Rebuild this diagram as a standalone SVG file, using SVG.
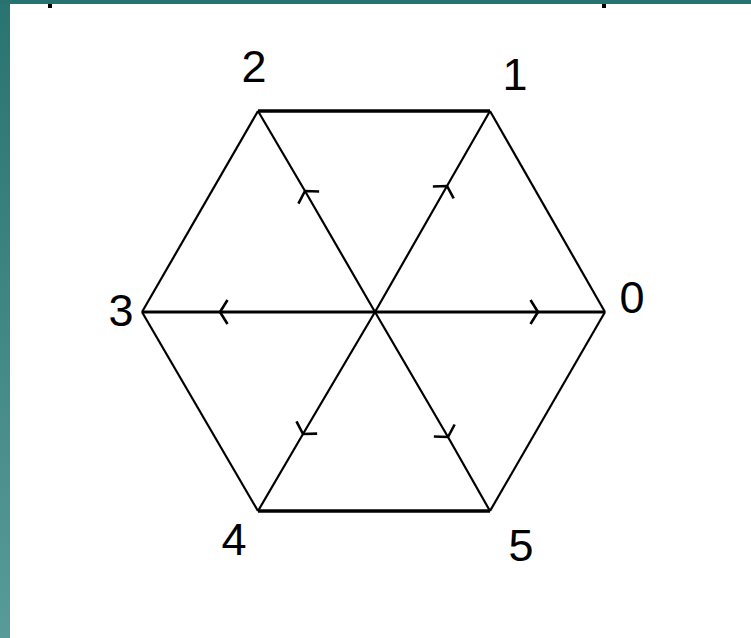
<svg xmlns="http://www.w3.org/2000/svg" width="751" height="638" viewBox="0 0 751 638">
<style>
.lbl{font-family:"Liberation Sans",Arial,sans-serif;font-size:45px;fill:#000;text-anchor:middle}
.e{stroke:#000;stroke-width:2.2;fill:none}
.h{stroke:#000;stroke-width:3.5;fill:none}
.s{stroke:#000;stroke-width:2.2;fill:none;marker-mid:url(#chev)}
.sh{stroke:#000;stroke-width:3;fill:none;marker-mid:url(#chev)}
</style>
<defs>
<linearGradient id="bar" x1="0" y1="0" x2="0" y2="1">
<stop offset="0" stop-color="#297370"/>
<stop offset="1" stop-color="#589b98"/>
</linearGradient>
<marker id="chev" markerUnits="userSpaceOnUse" viewBox="-12 -15 24 30" markerWidth="24" markerHeight="30" refX="0" refY="0" orient="auto" overflow="visible">
<path d="M -7.5,-12 L 0,0 L -7.5,12" fill="none" stroke="#000" stroke-width="2.6"/>
</marker>
</defs>
<rect x="0" y="0" width="751" height="638" fill="#fff"/>
<rect x="0" y="0" width="10" height="638" fill="url(#bar)"/>
<rect x="0" y="0" width="751" height="4" fill="#277170"/>
<rect x="48" y="4" width="4" height="4" fill="#000"/>
<rect x="602" y="4" width="4" height="4" fill="#000"/>
<g id="connectors">
<line class="h" x1="258" y1="111" x2="490" y2="111"/>
<line class="e" x1="490" y1="111" x2="605" y2="312"/>
<line class="e" x1="605" y1="312" x2="490" y2="511"/>
<line class="h" x1="490" y1="511" x2="258" y2="511"/>
<line class="e" x1="258" y1="511" x2="142" y2="312"/>
<line class="e" x1="142" y1="312" x2="258" y2="111"/>
<polyline class="s" points="375,312 305,191 258,111"/>
<polyline class="s" points="375,312 447,186 490,111"/>
<polyline class="sh" points="375,312 220,312 142,312"/>
<polyline class="sh" points="375,312 538,312 605,312"/>
<polyline class="s" points="375,312 303,434 258,511"/>
<polyline class="s" points="375,312 448,437 490,511"/>
</g>
<g id="node-0"><text class="lbl" x="632" y="313">0</text></g>
<g id="node-1"><text class="lbl" x="515" y="90">1</text></g>
<g id="node-2"><text class="lbl" x="254" y="82">2</text></g>
<g id="node-3"><text class="lbl" x="121" y="326">3</text></g>
<g id="node-4"><text class="lbl" x="234" y="555">4</text></g>
<g id="node-5"><text class="lbl" x="521" y="561">5</text></g>
</svg>
